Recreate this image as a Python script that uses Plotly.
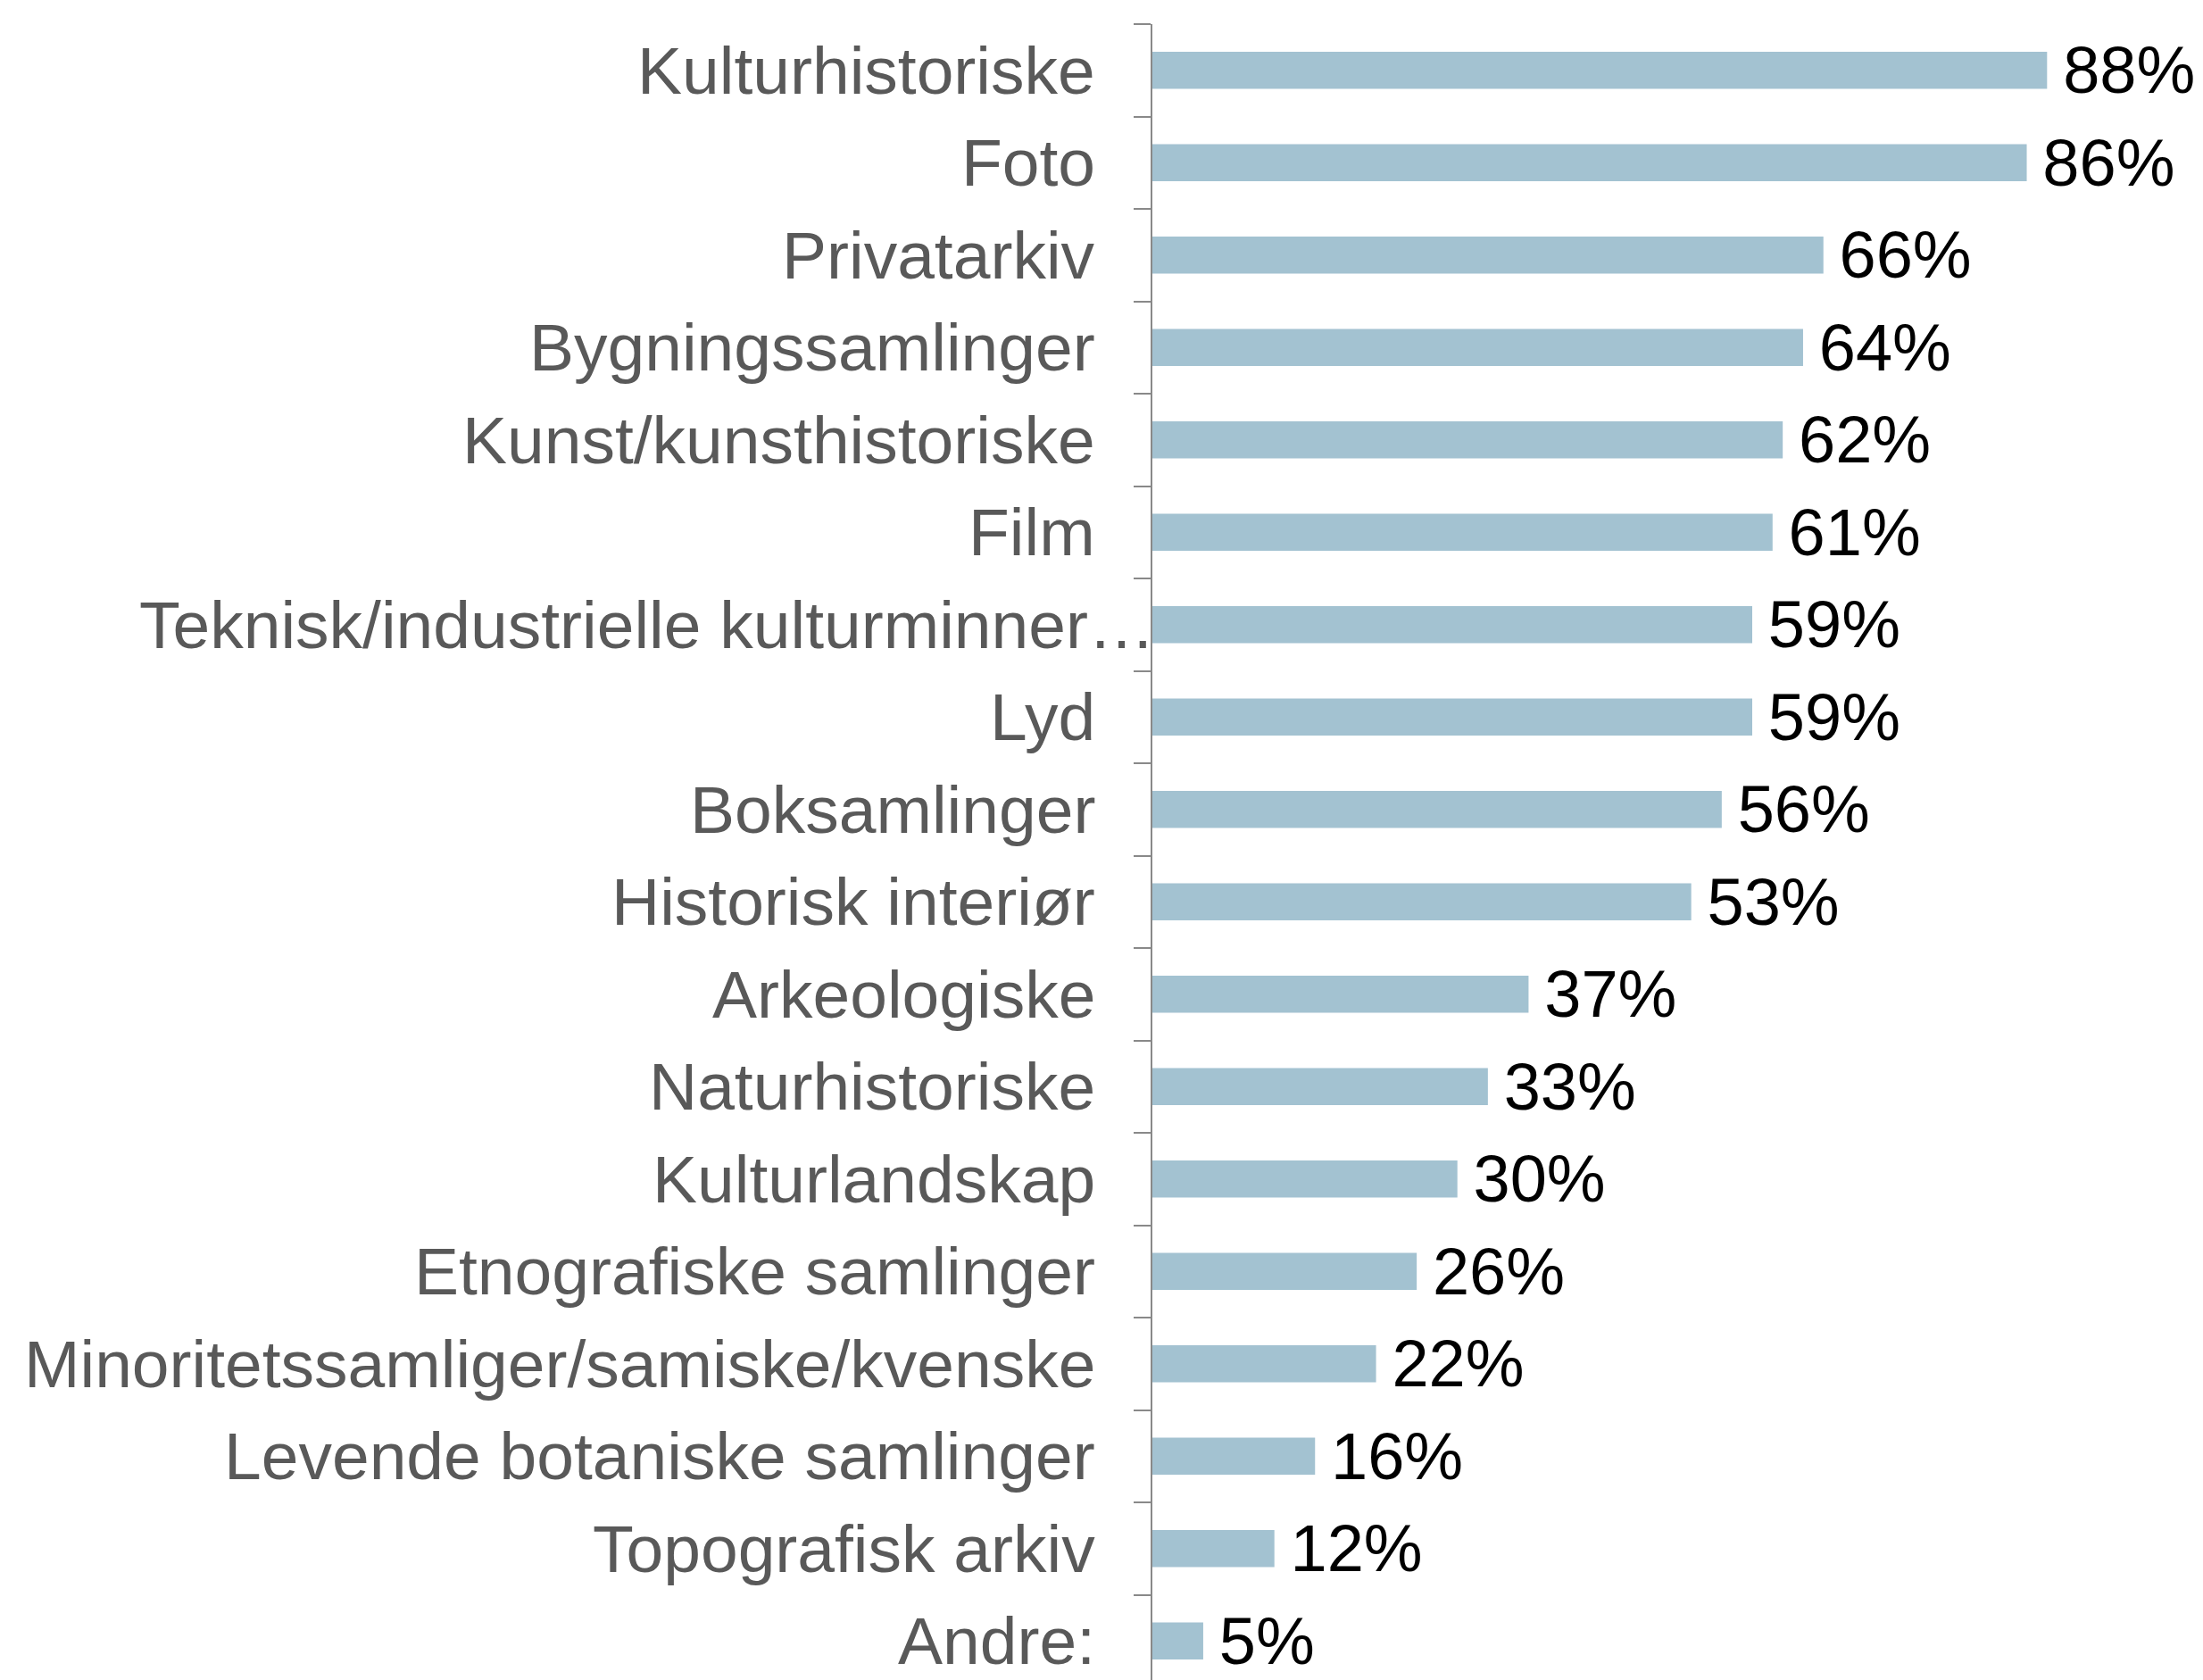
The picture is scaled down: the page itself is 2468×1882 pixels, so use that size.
import plotly.graph_objects as go

categories = [
    "Kulturhistoriske", "Foto", "Privatarkiv", "Bygningssamlinger",
    "Kunst/kunsthistoriske", "Film", "Teknisk/industrielle kulturminner…",
    "Lyd", "Boksamlinger", "Historisk interiør", "Arkeologiske",
    "Naturhistoriske", "Kulturlandskap", "Etnografiske samlinger",
    "Minoritetssamliger/samiske/kvenske", "Levende botaniske samlinger",
    "Topografisk arkiv", "Andre:",
]
values = [88, 86, 66, 64, 62, 61, 59, 59, 56, 53, 37, 33, 30, 26, 22, 16, 12, 5]
value_labels = [f"\u2009{v}%" for v in values]

FONT = "Liberation Sans, Arial, sans-serif"
PAGE_OFFSET = 8  # default body margin of the page
W, H = 2468 - PAGE_OFFSET, 1882 - PAGE_OFFSET
LEFT = 1291 - PAGE_OFFSET
TOP = 27 - PAGE_OFFSET
RIGHT = 12

fig = go.Figure(
    go.Bar(
        y=categories,
        x=values,
        orientation="h",
        marker=dict(color="#A3C2D1", line=dict(width=0)),
        text=value_labels,
        textposition="outside",
        textfont=dict(family=FONT, size=74, color="#000000"),
        constraintext="none",
        cliponaxis=False,
        width=0.4,
    )
)

# category labels as annotations (one is placed closer to the axis, as in the original)
for c in categories:
    shift = 5 if c.endswith("…") else -62
    fig.add_annotation(
        x=0, y=c, xref="x", yref="y", text=c, showarrow=False,
        xanchor="right", yanchor="middle", xshift=shift,
        font=dict(family=FONT, size=75, color="#595959"),
    )

px_per_unit = 11.39
xmax = (W - LEFT - RIGHT) / px_per_unit
ybottom = -0.5 + (H - TOP) / 103.5

fig.update_layout(
    width=W, height=H,
    margin=dict(l=LEFT, r=RIGHT, t=TOP, b=0, pad=0),
    plot_bgcolor="white", paper_bgcolor="white",
    showlegend=False,
    xaxis=dict(range=[0, xmax], visible=False, fixedrange=True),
    yaxis=dict(
        type="category",
        categoryorder="array", categoryarray=categories,
        range=[ybottom, -0.5],
        showticklabels=False,
        showline=True, linecolor="#898989", linewidth=2,
        ticks="outside", tickson="boundaries", ticklen=19,
        tickcolor="#898989", tickwidth=2,
        showgrid=False, zeroline=False,
    ),
)

fig.write_html("out.html")
